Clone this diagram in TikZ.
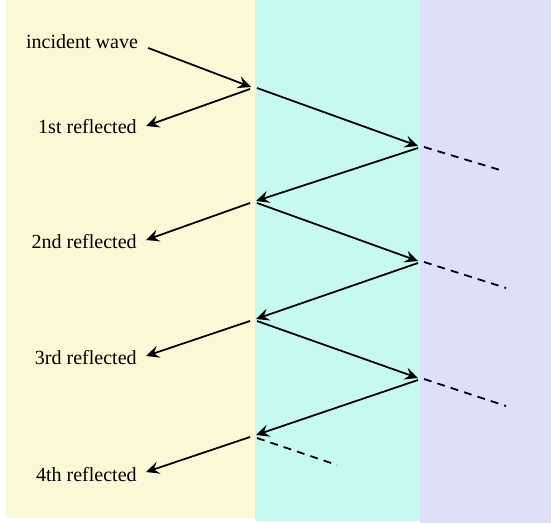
\documentclass[tikz,border=0pt]{standalone}
\usepackage{fontspec}
\setmainfont{Liberation Serif}
\usepackage{tikz}
\usetikzlibrary{arrows.meta}
\definecolor{layerA}{RGB}{251,248,214}
\definecolor{layerB}{RGB}{198,250,240}
\definecolor{layerC}{RGB}{223,223,250}

\begin{document}
\begin{tikzpicture}[x=0.02cm, y=-0.02cm,
		>={Stealth[length=7.5pt, width=7pt, inset=2.8pt]},
		ray/.style={line width=1pt, ->},
		leak/.style={line width=1pt, dash pattern=on 4.5pt off 3.5pt},
		txt/.style={inner sep=0pt, font=\fontsize{11.4}{13}\selectfont},
		lbl/.style={txt, anchor=east}]
		
		\useasboundingbox (0,0) rectangle (551,523);
		\fill[layerA] (6,0) rectangle (255,518);
		\fill[layerB] (255,0) rectangle (420,521);
		\fill[layerC] (420,0) rectangle (551,523);
		
		\node[txt] (inc) at (82,42) {incident wave};
		\node[lbl] (ref1) at (137,127) {1st reflected};
		\node[lbl] (ref2) at (137,242) {2nd reflected};
		\node[lbl] (ref3) at (137,358) {3rd reflected};
		\node[lbl] (ref4) at (137,475) {4th reflected};
		
		\coordinate (l0) at (253,87);
		\coordinate (l1) at (253,202);
		\coordinate (l2) at (253,320);
		\coordinate (l3) at (253,436);
		\coordinate (r0) at (419,147);
		\coordinate (r1) at (419,262);
		\coordinate (r2) at (419,379);
		\coordinate (d0) at (500,170);
		\coordinate (d1) at (506,288);
		\coordinate (d2) at (506,406);
		\coordinate (d3) at (337,465);
		
		\draw[ray] ([shift={(10,6)}]inc.east) -- ([shift={(-2,0)}]l0);
		\draw[ray] ([shift={(-3,2)}]l0) -- ([shift={(9,-1)}]ref1.east);
		\draw[ray] ([shift={(-3,1)}]l1) -- ([shift={(9,-2)}]ref2.east);
		\draw[ray] ([shift={(-3,1)}]l2) -- ([shift={(9,-2)}]ref3.east);
		\draw[ray] ([shift={(-3,1)}]l3) -- ([shift={(9,-3)}]ref4.east);
		
		\draw[ray] ([shift={(4,1)}]l0) -- ([shift={(-1,-1)}]r0);
		\draw[ray] ([shift={(-1,1)}]r0) -- ([shift={(3,-1)}]l1);
		\draw[ray] ([shift={(4,1)}]l1) -- ([shift={(-1,-1)}]r1);
		\draw[ray] ([shift={(-1,1)}]r1) -- ([shift={(3,-1)}]l2);
		\draw[ray] ([shift={(4,1)}]l2) -- ([shift={(-1,-1)}]r2);
		\draw[ray] ([shift={(-1,1)}]r2) -- ([shift={(3,-1)}]l3);
		
		\draw[leak] ([shift={(5,0)}]r0) -- (d0);
		\draw[leak] ([shift={(5,0)}]r1) -- (d1);
		\draw[leak] ([shift={(5,0)}]r2) -- (d2);
		\draw[leak] ([shift={(4,2)}]l3) -- (d3);
		
	\end{tikzpicture}
\end{document}
